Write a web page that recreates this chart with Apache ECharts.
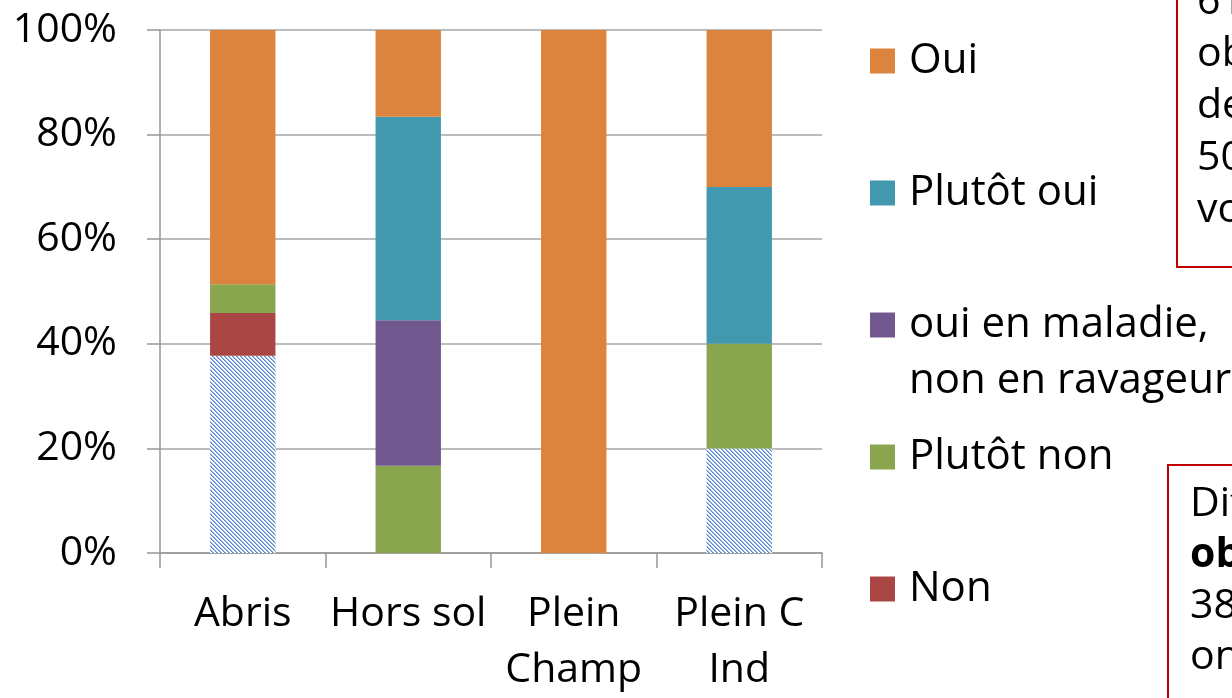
<!DOCTYPE html>
<html>
<head>
<meta charset="utf-8">
<script src="https://cdn.jsdelivr.net/npm/echarts@6/dist/echarts.min.js"></script>
<style>
  html, body { margin: 0; padding: 0; background: #fff; }
  #chart { width: 1232px; height: 698px; }
</style>
</head>
<body>
<div id="chart"></div>
<script>
const categories = ['Abris', 'Hors sol', 'Plein\nChamp', 'Plein C\nInd']
const yTicks = [0, 20, 40, 60, 80, 100]

// stacked from bottom to top, in %
const sansReponse = [37.7, 0, 0, 20]
const non = [8.2, 0, 0, 0]
const plutotNon = [5.5, 16.7, 0, 20]
const ouiMaladie = [0, 27.8, 0, 0]
const plutotOui = [0, 38.9, 0, 30]
const oui = [48.6, 16.6, 100, 30]

const FONT = 'Open Sans'

// hatched fill for the unanswered part
const makeHatch = () => {
  const c = document.createElement('canvas')
  c.width = 4
  c.height = 4
  const ctx = c.getContext('2d')
  ctx.fillStyle = '#fff'
  ctx.fillRect(0, 0, 4, 4)
  for (let i = 0; i < 4; i++) {
    ctx.fillStyle = '#5586cf'
    ctx.fillRect(i, i, 1, 1)
    ctx.fillStyle = '#9ab8e5'
    ctx.fillRect((i + 1) % 4, i, 1, 1)
  }
  return c
}

const lines = [
  { name: 'Sans réponse', data: sansReponse, color: { image: makeHatch(), repeat: 'repeat' } },
  { name: 'Non', data: non, color: '#aa4644' },
  { name: 'Plutôt non', data: plutotNon, color: '#89a54e' },
  { name: 'oui en maladie, non en ravageur', data: ouiMaladie, color: '#71588f' },
  { name: 'Plutôt oui', data: plutotOui, color: '#4298af' },
  { name: 'Oui', data: oui, color: '#dc843e' },
]

// legend entries, top to bottom (centre of the icon)
const legendItems = [
  { name: 'Oui', y: 61 },
  { name: 'Plutôt oui', y: 193 },
  { name: 'oui en maladie, non en ravageur', y: 325, multi: true },
  { name: 'Plutôt non', y: 457 },
  { name: 'Non', y: 589 },
]

const LH = 56
const legends = legendItems.map(({ name, y, multi }) => ({
  data: [name],
  left: 870,
  top: multi ? y - LH * 1.5 : y - LH / 2,
  padding: 0,
  icon: 'rect',
  itemWidth: 25,
  itemHeight: 25,
  selectedMode: false,
  formatter: multi ? () => '\noui en maladie,\nnon en ravageur' : '{name}',
  textStyle: {
    fontFamily: FONT,
    fontSize: 42,
    color: '#000',
    lineHeight: LH,
    padding: [0, 0, 0, 9],
  },
}))

const chart = echarts.init(document.getElementById('chart'), null, { renderer: 'canvas' })

chart.setOption({
  animation: false,
  backgroundColor: '#fff',
  grid: { left: 160, right: 410, top: 30, bottom: 143 },
  legend: legends,
  xAxis: {
    type: 'category',
    data: categories,
    axisLine: { lineStyle: { color: '#969696', width: 1.5 } },
    axisTick: { show: true, length: 15, lineStyle: { color: '#969696', width: 1.5 } },
    axisLabel: {
      color: '#000',
      fontFamily: FONT,
      fontSize: 41,
      lineHeight: LH,
      margin: 33,
      interval: 0,
    },
  },
  yAxis: {
    type: 'value',
    min: 0,
    max: 100,
    interval: 20,
    axisLine: { show: true, lineStyle: { color: '#969696', width: 1.5 } },
    axisTick: { show: true, length: 13, lineStyle: { color: '#969696', width: 1.5 } },
    splitLine: { lineStyle: { color: '#a6a6a6', width: 1.5 } },
    axisLabel: {
      color: '#000',
      fontFamily: FONT,
      fontSize: 41,
      margin: 43,
      formatter: (v) => (yTicks.includes(v) ? v + '%' : ''),
    },
  },
  series: lines.map(({ name, data, color }) => ({
    name,
    type: 'bar',
    stack: 'total',
    barWidth: '39.5%',
    data,
    itemStyle: { color },
  })),
  graphic: [
    {
      type: 'rect',
      shape: { x: 1177, y: -10, width: 200, height: 277 },
      style: { fill: 'none', stroke: '#c00000', lineWidth: 2 },
      z: 10,
    },
    {
      type: 'text',
      x: 1197,
      y: -24,
      style: {
        text: '61 %\nobservent\ndes dégâts\n50 % des\nvolontaires',
        fontFamily: FONT,
        fontSize: 41,
        lineHeight: 52,
        fill: '#000',
        verticalAlign: 'top',
      },
      z: 10,
    },
    {
      type: 'rect',
      shape: { x: 1168, y: 465, width: 200, height: 300 },
      style: { fill: 'none', stroke: '#c00000', lineWidth: 2 },
      z: 10,
    },
    {
      type: 'text',
      x: 1190,
      y: 479,
      style: {
        text: '{n|Différence}\n{b|observée}\n{n|38 %}\n{n|ont}',
        verticalAlign: 'top',
        rich: {
          n: { fontFamily: FONT, fontSize: 41, lineHeight: 51, fill: '#000' },
          b: { fontFamily: FONT, fontSize: 41, lineHeight: 51, fontWeight: 'bold', fill: '#000' },
        },
      },
      z: 10,
    },
  ],
})
</script>
</body>
</html>
